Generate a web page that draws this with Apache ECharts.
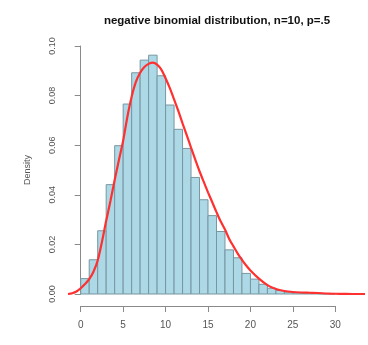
<!DOCTYPE html>
<html>
<head>
<meta charset="utf-8">
<script src="https://cdn.jsdelivr.net/npm/echarts@6/dist/echarts.min.js"></script>
<style>html,body{margin:0;padding:0;background:#fff}#c{width:368px;height:345px}</style>
</head>
<body>
<div id="c"></div>
<script>
// Histogram: bin start (width 1) and density
const binStarts = [0,1,2,3,4,5,6,7,8,9,10,11,12,13,14,15,16,17,18,19,20,21,22,23,24,25,26,27,28,29];
const binDensity = [0.0062,0.0138,0.0255,0.0441,0.0598,0.0766,0.0892,0.0943,0.0963,0.0880,
  0.0762,0.0664,0.0587,0.0470,0.0380,0.0316,0.0252,0.0178,0.0146,0.0083,
  0.0060,0.0039,0.0023,0.0014,0.0008,0.0005,0.0003,0.0002,0.0001,0.0001];
const binWidth = 1;
// Density curve
const curveX = [-1.5,-1.0,-0.5,0,0.5,1.0,1.5,2.0,2.5,3.0,3.5,4.0,4.5,5.0,5.5,6.0,6.5,7.0,7.5,8.0,8.5,
  9.0,9.5,10.0,10.5,11.0,11.5,12.0,12.5,13.0,13.5,14.0,14.5,15.0,15.5,16.0,16.5,17.0,17.5,18.0,18.5,
  19.0,19.5,20.0,21.0,22.0,23.0,24.0,25.0,26.0,27.0,28.0,29.0,30.0,31.0,32.0,33.5];
const curveY = [0,0.0003,0.0010,0.0023,0.0040,0.0060,0.0090,0.0135,0.0210,0.0295,0.0375,0.0460,0.0540,0.0618,0.0715,0.0795,0.0855,0.0892,0.0915,0.0928,0.0933,
  0.0925,0.0905,0.0870,0.0830,0.0785,0.0738,0.0688,0.0640,0.0590,0.0542,0.0495,0.0452,0.0410,0.0370,0.0330,0.0292,0.0260,0.0222,0.0192,0.0163,
  0.0138,0.0115,0.0095,0.0062,0.0036,0.0020,0.0012,0.0008,0.0006,0.0005,0.0004,0.0002,0.0001,0.00005,0,0];
const xTicks = [0,5,10,15,20,25,30];
const yTicks = [0,0.02,0.04,0.06,0.08,0.10];
const titleText = 'negative binomial distribution, n=10, p=.5';
const yName = 'Density';

const FONT = '"Liberation Sans", Arial, Helvetica, sans-serif';
const axisGray = '#8a8a8a';
const textGray = '#555';

const chart = echarts.init(document.getElementById('c'), null, {renderer: 'canvas'});
const histData = binStarts.map((s, i) => [s, s + binWidth, binDensity[i]]);
const curveData = curveX.map((x, i) => [x, curveY[i]]);

chart.setOption({
  animation: false,
  backgroundColor: '#fff',
  graphic: [{
    type: 'text', x: 217, y: 21,
    style: {text: titleText, font: 'bold 11.5px ' + FONT, fill: '#111', textAlign: 'center', textVerticalAlign: 'middle'}
  }],
  grid: [
    {left: 68, top: 46, width: 297, height: 248},
    {left: 80.7, top: 300, width: 254.6, height: 6}
  ],
  xAxis: [
    {gridIndex: 0, type: 'value', min: -1.5, max: 33.5, show: false},
    {gridIndex: 1, type: 'value', min: xTicks[0], max: xTicks[xTicks.length - 1], interval: 5,
      position: 'bottom',
      axisLine: {show: true, lineStyle: {color: axisGray, width: 1}},
      axisTick: {show: true, length: 6, lineStyle: {color: axisGray}},
      axisLabel: {show: true, margin: 14, fontSize: 10, color: textGray, fontFamily: FONT},
      splitLine: {show: false}}
  ],
  yAxis: [
    {gridIndex: 0, type: 'value', min: yTicks[0], max: yTicks[yTicks.length - 1], interval: 0.02,
      name: yName, nameLocation: 'middle', nameGap: 36,
      nameTextStyle: {fontSize: 9, color: textGray, fontFamily: FONT},
      axisLine: {show: true, lineStyle: {color: axisGray, width: 1}},
      axisTick: {show: true, length: 6, lineStyle: {color: axisGray}},
      axisLabel: {show: true, rotate: 90, margin: 11, fontSize: 9, color: textGray, fontFamily: FONT,
        formatter: v => v.toFixed(2)},
      splitLine: {show: false}},
    {gridIndex: 1, type: 'value', show: false}
  ],
  series: [
    {
      type: 'custom', xAxisIndex: 0, yAxisIndex: 0, data: histData, clip: false,
      renderItem: function (params, api) {
        const p0 = api.coord([api.value(0), api.value(2)]);
        const p1 = api.coord([api.value(1), 0]);
        return {
          type: 'rect',
          shape: {x: p0[0], y: p0[1], width: p1[0] - p0[0], height: p1[1] - p0[1]},
          style: {fill: '#add8e6', stroke: '#7797a1', lineWidth: 1}
        };
      }
    },
    {
      type: 'line', xAxisIndex: 0, yAxisIndex: 0, data: curveData, smooth: 0.3,
      showSymbol: false, clip: false,
      lineStyle: {color: '#ff3030', width: 2.2}
    }
  ]
});
</script>
</body>
</html>
